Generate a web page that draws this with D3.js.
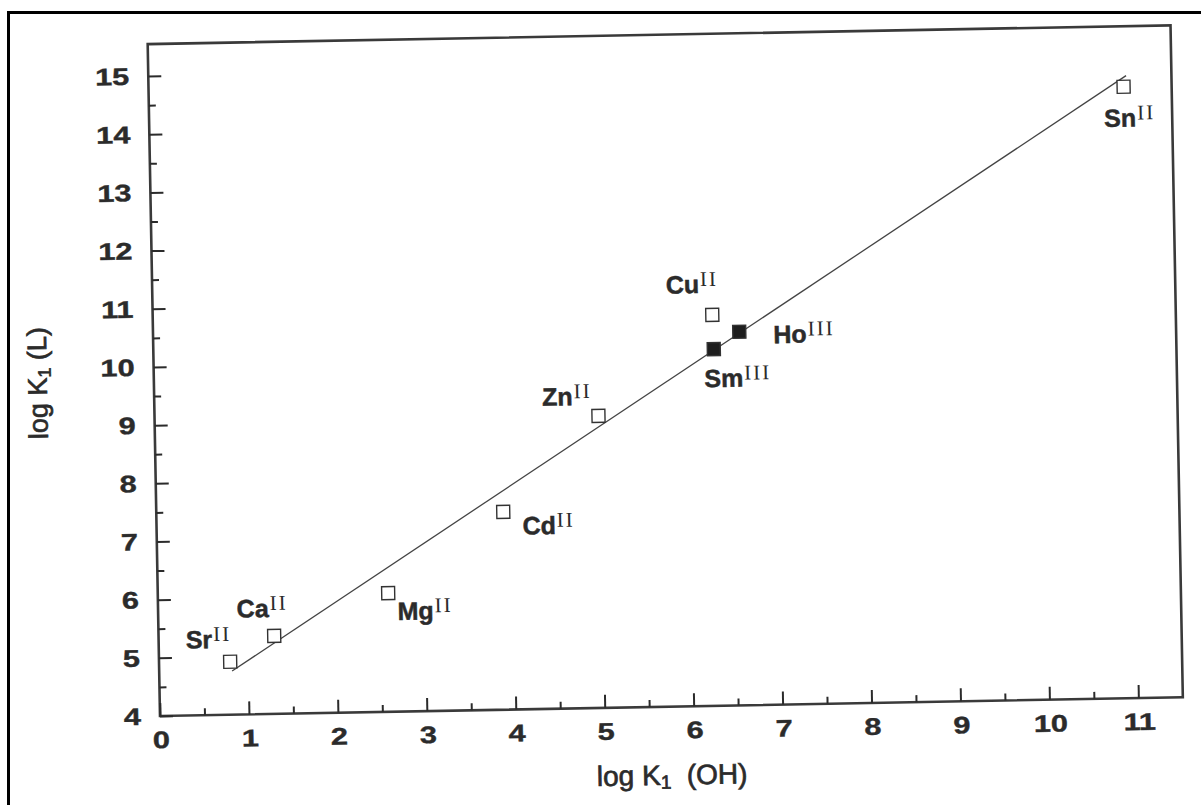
<!DOCTYPE html>
<html>
<head>
<meta charset="utf-8">
<script src="https://cdn.jsdelivr.net/npm/d3@7"></script>
<style>
  body { margin: 0; background: #fff; }
  svg { display: block; }
</style>
</head>
<body>
<div class="chart"></div>
<script>
// data
const ions = ["Sr", "Ca", "Mg", "Cd", "Zn", "Cu", "Sm", "Ho", "Sn"];
const charges = ["II", "II", "II", "II", "II", "II", "III", "III", "II"];
const logK1OH = [0.80, 1.30, 2.59, 3.90, 4.99, 6.29, 6.30, 6.59, 10.96];
const logK1L = [4.91, 5.34, 6.04, 7.40, 9.02, 10.72, 10.13, 10.42, 14.51];
const filled = [false, false, false, false, false, false, true, true, false];

// regression line end points
const fitX = [0.82, 10.99];
const fitY = [4.75, 14.70];

const xTicks = d3.range(0, 12);
const yTicks = d3.range(4, 16);
const xMinor = d3.range(0.5, 11, 1);
const yMinor = d3.range(4.5, 15, 1);

// label placement (pixels from the marker)
const labelOffsets = [[-44, -14], [-37, -19], [9, 27], [19, 23], [-56, -11],
                      [-46, -22], [-10, 38], [34, 12], [-20, 40]];

const W = 1201, H = 805;
const ink = "#2b2b2b";

const svg = d3.select(".chart").append("svg")
    .attr("width", W)
    .attr("height", H);

// outer border of the scan
svg.append("rect")
    .attr("x", 8.5).attr("y", 12.5)
    .attr("width", 1400).attr("height", 1000)
    .attr("fill", "none")
    .attr("stroke", "#000")
    .attr("stroke-width", 3);

// the page was scanned slightly tilted
const x0 = 160, y0 = 716;
const plot = svg.append("g")
    .attr("transform", `rotate(-1.05, ${x0}, ${y0})`);

const xScale = d3.scaleLinear().domain([0, 11.5]).range([x0, 1183]);
const yScale = d3.scaleLinear().domain([4, 15.55]).range([y0, 44]);

// frame
plot.append("rect")
    .attr("x", xScale(0)).attr("y", yScale(15.55))
    .attr("width", xScale(11.5) - xScale(0))
    .attr("height", yScale(4) - yScale(15.55))
    .attr("fill", "none")
    .attr("stroke", "#3a3a3a")
    .attr("stroke-width", 2.6);

// inward ticks
const xAxis = d3.axisTop(xScale).tickValues(xTicks).tickSize(13).tickFormat("");
const xAxisMinor = d3.axisTop(xScale).tickValues(xMinor).tickSize(7).tickFormat("");
const yAxis = d3.axisRight(yScale).tickValues(yTicks).tickSize(13).tickFormat("");
const yAxisMinor = d3.axisRight(yScale).tickValues(yMinor).tickSize(7).tickFormat("");

[xAxis, xAxisMinor].forEach(ax => {
    plot.append("g").attr("class", "axis")
        .attr("transform", `translate(0, ${y0})`)
        .call(ax);
});
[yAxis, yAxisMinor].forEach(ax => {
    plot.append("g").attr("class", "axis")
        .attr("transform", `translate(${x0}, 0)`)
        .call(ax);
});
plot.selectAll(".axis .domain").remove();
plot.selectAll(".axis line").attr("stroke", ink).attr("stroke-width", 2);

// tick labels (wide bold digits)
plot.append("g").selectAll("text")
    .data(xTicks)
    .join("text")
    .attr("transform", d => `translate(${xScale(d) + 1}, ${y0 + 32}) scale(1.28, 1)`)
    .attr("text-anchor", "middle")
    .attr("font-family", "Liberation Sans, Arial, sans-serif")
    .attr("font-weight", "bold")
    .attr("font-size", 24)
    .attr("fill", ink)
    .attr("stroke", ink)
    .attr("stroke-width", 0.4)
    .text(d => d);

plot.append("g").selectAll("text")
    .data(yTicks)
    .join("text")
    .attr("transform", d => `translate(${x0 - 19}, ${yScale(d) + 8.5}) scale(1.28, 1)`)
    .attr("text-anchor", "end")
    .attr("font-family", "Liberation Sans, Arial, sans-serif")
    .attr("font-weight", "bold")
    .attr("font-size", 24)
    .attr("fill", ink)
    .attr("stroke", ink)
    .attr("stroke-width", 0.4)
    .text(d => d);

// axis titles
const xTitle = plot.append("text")
    .attr("x", 671).attr("y", 794)
    .attr("text-anchor", "middle")
    .attr("font-family", "Liberation Sans, Arial, sans-serif")
    .attr("font-size", 28)
    .attr("fill", ink)
    .attr("stroke", ink)
    .attr("stroke-width", 0.7);
xTitle.append("tspan").text("log K");
xTitle.append("tspan").attr("font-size", 19).attr("dy", 4).text("1");
xTitle.append("tspan").attr("dy", -4).text("\u00a0 (OH)");

const yTitle = plot.append("text")
    .attr("transform", "translate(53, 381) rotate(-90)")
    .attr("text-anchor", "middle")
    .attr("font-family", "Liberation Sans, Arial, sans-serif")
    .attr("font-size", 27)
    .attr("fill", ink)
    .attr("stroke", ink)
    .attr("stroke-width", 0.7);
yTitle.append("tspan").text("log K");
yTitle.append("tspan").attr("font-size", 18).attr("dy", 4).text("1");
yTitle.append("tspan").attr("dy", -4).text(" (L)");

// fitted line
const line = d3.line()
    .x(d => xScale(d[0]))
    .y(d => yScale(d[1]));

plot.append("path")
    .datum(d3.zip(fitX, fitY))
    .attr("d", line)
    .attr("fill", "none")
    .attr("stroke", "#444")
    .attr("stroke-width", 1.3);

// markers
const points = ions.map((ion, i) => ({
    ion, charge: charges[i], x: logK1OH[i], y: logK1L[i],
    filled: filled[i], off: labelOffsets[i]
}));

plot.append("g").selectAll("rect")
    .data(points)
    .join("rect")
    .attr("x", d => xScale(d.x) - 6.5)
    .attr("y", d => yScale(d.y) - 6.5)
    .attr("width", 13)
    .attr("height", 13)
    .attr("fill", d => d.filled ? "#1e1e1e" : "#fff")
    .attr("stroke", "#333")
    .attr("stroke-width", 1.4);

// ion labels with roman superscripts
const labels = plot.append("g").selectAll("text")
    .data(points)
    .join("text")
    .attr("x", d => xScale(d.x) + d.off[0])
    .attr("y", d => yScale(d.y) + d.off[1])
    .attr("fill", ink);

labels.append("tspan")
    .attr("font-family", "Liberation Sans, Arial, sans-serif")
    .attr("font-weight", "bold")
    .attr("font-size", 25)
    .attr("stroke", ink)
    .attr("stroke-width", 0.5)
    .text(d => d.ion);

labels.append("tspan")
    .attr("font-family", "Liberation Serif, Times New Roman, serif")
    .attr("font-size", 21)
    .attr("letter-spacing", 2)
    .attr("dx", 1)
    .attr("dy", -7)
    .text(d => d.charge);
</script>
</body>
</html>
